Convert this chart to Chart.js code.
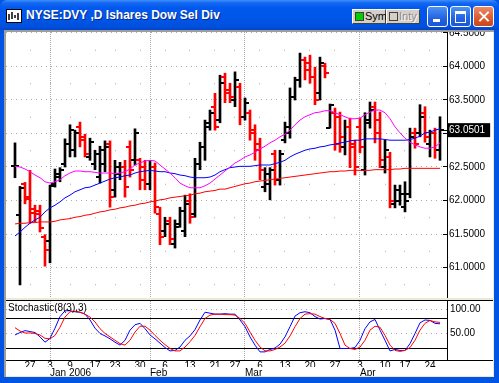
<!DOCTYPE html>
<html><head><meta charset="utf-8">
<script src="https://cdn.jsdelivr.net/npm/chart.js@4.4.1/dist/chart.umd.min.js"></script>
<style>
html,body{margin:0;padding:0;}
body{width:499px;height:383px;position:relative;overflow:hidden;background:#0054e3;font-family:"Liberation Sans",Arial,sans-serif;}
#title{position:absolute;left:0;top:0;width:499px;height:30px;border-radius:7px 7px 0 0;
 background:linear-gradient(to bottom,#3d8ffc 0px,#1467f0 3px,#0058ee 8px,#0055e6 20px,#0050dc 27px,#0043c9 30px);}
#title .txt{position:absolute;left:26px;top:8px;font:bold 12px "Liberation Sans",Arial,sans-serif;color:#fff;text-shadow:1px 1px 0 #0a2a8a;white-space:nowrap;}
#icon{position:absolute;left:6px;top:9px;width:16px;height:14px;}
.sbtn{position:absolute;top:9px;height:13px;width:32px;background:#d4d0c8;border-top:1px solid #fff;border-left:1px solid #fff;border-right:1px solid #404040;border-bottom:1px solid #404040;font:11px "Liberation Sans",Arial,sans-serif;line-height:13px;}
.sbtn .box{position:absolute;left:2px;top:2px;width:7px;height:7px;border:1px solid #404040;}
.sbtn span{position:absolute;left:12px;top:0;}
.wbtn{position:absolute;top:6px;width:19px;height:19px;border:1px solid #fff;border-radius:3px;background:linear-gradient(#4a93f6,#2463e2 60%,#1b56d4);}
#client{position:absolute;left:4px;top:30px;width:490px;height:347px;background:#ece9d8;}
#edgeL{position:absolute;left:4px;top:30px;width:2px;height:347px;background:#9d9d9d;}
#edgeT{position:absolute;left:4px;top:30px;width:490px;height:2px;background:#9d9d9d;}
canvas{position:absolute;background:#fff;}
#price{left:6px;top:32px;}
#stoch{left:6px;top:301px;}
.hl{position:absolute;left:6px;width:487px;height:1px;background:#000;}
#stlabel{position:absolute;left:8px;top:302px;font:10px "Liberation Sans",Arial,sans-serif;color:#000;}
</style></head>
<body>
<div id="title">
 <svg id="icon" width="16" height="14"><rect x="0.5" y="0.5" width="15" height="13" fill="#fff" stroke="#000"/><path d="M3 11V5M6 10V3M9 9V6M12 11V4" stroke="#000" stroke-width="1.5"/></svg>
 <div class="txt">NYSE:DVY ,D Ishares Dow Sel Div</div>
 <div class="sbtn" style="left:352px"><div class="box" style="background:#00d000"></div><span>Sym</span></div>
 <div class="sbtn" style="left:386px"><div class="box" style="background:#d4d0c8"></div><span style="color:#8a8a8a;text-shadow:1px 1px 0 #fff">Inty</span></div>
 <div class="wbtn" style="left:427px"><div style="position:absolute;left:5px;top:12px;width:7px;height:3px;background:#fff"></div></div>
 <div class="wbtn" style="left:450px"><div style="position:absolute;left:4px;top:4px;width:9px;height:8px;border:1px solid #fff;border-top:3px solid #fff"></div></div>
 <div class="wbtn" style="left:473px;background:linear-gradient(#ec8a68,#dc5a30 60%,#c8461c)"><div style="position:absolute;left:9px;top:3px;width:2px;height:13px;background:#fff;transform:rotate(45deg)"></div><div style="position:absolute;left:9px;top:3px;width:2px;height:13px;background:#fff;transform:rotate(-45deg)"></div></div>
</div>
<div id="client"></div>
<div id="edgeL"></div><div id="edgeT"></div>
<canvas id="price" width="487" height="266"></canvas>
<div class="hl" style="top:300px"></div>
<canvas id="stoch" width="487" height="75"></canvas>
<div class="hl" style="top:360px"></div>
<div id="stlabel">Stochastic(8(3),3)</div>
<script>
// ---------- data ----------
const tradingDays = [
 '2005-12-21','2005-12-22','2005-12-23','2005-12-27','2005-12-28','2005-12-29','2005-12-30',
 '2006-01-03','2006-01-04','2006-01-05','2006-01-06','2006-01-09','2006-01-10','2006-01-11','2006-01-12','2006-01-13',
 '2006-01-17','2006-01-18','2006-01-19','2006-01-20','2006-01-23','2006-01-24','2006-01-25','2006-01-26','2006-01-27','2006-01-30','2006-01-31',
 '2006-02-01','2006-02-02','2006-02-03','2006-02-06','2006-02-07','2006-02-08','2006-02-09','2006-02-10','2006-02-13','2006-02-14',
 '2006-02-15','2006-02-16','2006-02-17','2006-02-21','2006-02-22','2006-02-23','2006-02-24','2006-02-27','2006-02-28',
 '2006-03-01','2006-03-02','2006-03-03','2006-03-06','2006-03-07','2006-03-08','2006-03-09','2006-03-10','2006-03-13','2006-03-14',
 '2006-03-15','2006-03-16','2006-03-17','2006-03-20','2006-03-21','2006-03-22','2006-03-23','2006-03-24','2006-03-27','2006-03-28',
 '2006-03-29','2006-03-30','2006-03-31',
 '2006-04-03','2006-04-04','2006-04-05','2006-04-06','2006-04-07','2006-04-10','2006-04-11','2006-04-12','2006-04-13',
 '2006-04-17','2006-04-18','2006-04-19','2006-04-20','2006-04-21','2006-04-24','2006-04-25','2006-04-26'
];
const openPrices = [
 62.51,61.78,62.25,62.05,61.88,61.85,61.46,61.39,62.25,62.35,
 62.55,62.85,62.75,63.10,62.95,62.65,62.55,62.35,62.55,62.85,
 62.15,62.40,62.50,62.80,62.60,62.60,62.50,62.25,62.50,61.80,
 61.55,61.70,61.35,61.65,61.55,62.00,61.80,62.55,62.80,63.10,
 63.40,63.20,63.85,63.65,63.50,63.70,63.25,63.30,63.05,62.85,
 62.20,62.25,62.70,62.30,62.90,63.00,63.55,63.80,64.10,64.05,
 63.85,63.60,64.00,63.08,63.30,63.25,62.80,63.10,62.85,63.10,
 62.45,63.15,63.40,63.20,62.50,62.65,61.95,62.00,61.90,62.10,
 63.00,63.00,63.30,62.85,63.00,62.75];
const highPrices = [
 62.86,62.21,62.27,62.45,61.93,61.93,61.49,62.23,62.47,62.49,
 62.92,63.13,63.05,63.17,62.99,62.93,62.75,62.81,62.89,62.89,
 62.60,62.57,62.60,62.89,63.07,62.63,62.60,62.60,62.56,61.90,
 61.75,61.75,61.71,61.90,62.08,62.10,62.63,62.87,63.20,63.35,
 63.60,63.87,63.90,63.75,63.92,63.75,63.53,63.35,63.13,62.93,
 62.49,62.49,62.75,62.75,63.17,63.68,63.84,64.20,64.14,64.17,
 63.99,64.14,64.05,63.44,63.38,63.32,63.20,63.23,62.90,63.23,
 63.31,63.47,63.47,63.32,62.90,62.72,62.23,62.23,62.28,63.08,
 63.08,63.43,63.40,63.05,63.08,63.25];
const lowPrices = [
 62.34,60.74,61.95,61.66,61.68,61.53,61.02,61.07,62.20,62.28,
 62.50,62.65,62.65,62.80,62.65,62.60,62.46,62.26,62.43,61.90,
 62.05,62.31,62.05,62.35,62.53,62.16,62.16,62.16,61.81,61.34,
 61.46,61.34,61.29,61.60,61.46,61.66,61.75,62.46,62.60,63.05,
 63.05,63.16,63.46,63.46,63.40,63.13,63.20,62.90,62.60,62.31,
 62.13,62.01,62.23,62.23,62.86,62.93,63.50,63.69,63.80,63.75,
 63.43,63.50,63.83,63.08,62.75,62.72,62.68,62.49,62.38,62.71,
 62.38,63.08,62.86,62.49,62.41,61.89,61.89,61.93,61.83,62.04,
 62.78,62.95,62.87,62.65,62.63,62.60];
const closePrices = [
 62.52,62.19,62.02,61.82,61.80,61.59,61.26,62.22,62.40,62.45,
 62.85,63.05,63.00,62.90,62.70,62.88,62.70,62.75,62.80,62.05,
 62.50,62.50,62.20,62.45,63.00,62.30,62.25,62.50,61.90,61.45,
 61.65,61.42,61.60,61.85,61.95,61.75,62.55,62.80,63.15,63.30,
 63.10,63.75,63.60,63.55,63.80,63.25,63.45,63.00,62.75,62.45,
 62.40,62.45,62.30,62.70,63.10,63.55,63.80,64.10,63.95,63.85,
 63.50,64.05,63.90,63.43,62.85,62.95,63.10,62.80,62.50,62.80,
 63.20,63.35,63.00,62.60,62.75,62.00,62.15,62.10,62.00,62.95,
 62.85,63.25,62.95,63.00,62.75,63.0501];
const maFast = [
 62.51,62.50,62.47,62.43,62.38,62.34,62.28,62.26,62.28,62.31,
 62.37,62.41,62.44,62.44,62.43,62.43,62.42,62.41,62.41,62.41,
 62.40,62.41,62.43,62.47,62.53,62.56,62.59,62.60,62.59,62.53,
 62.47,62.41,62.34,62.26,62.22,62.19,62.19,62.19,62.22,62.26,
 62.32,62.38,62.44,62.50,62.56,62.60,62.65,62.68,62.72,62.77,
 62.81,62.86,62.90,62.95,62.99,63.05,63.13,63.20,63.25,63.28,
 63.31,63.32,63.34,63.34,63.31,63.28,63.25,63.22,63.22,63.23,
 63.28,63.32,63.35,63.35,63.31,63.22,63.10,63.01,62.93,62.87,
 62.83,62.80,62.78,62.78,62.80,62.86];
const maMid = [
 61.47,61.53,61.60,61.66,61.71,61.75,61.83,61.89,61.93,61.98,
 62.04,62.08,62.13,62.16,62.19,62.20,62.23,62.26,62.29,62.32,
 62.34,62.35,62.37,62.38,62.41,62.43,62.44,62.45,62.44,62.43,
 62.43,62.41,62.40,62.38,62.37,62.35,62.34,62.34,62.34,62.35,
 62.38,62.43,62.46,62.49,62.50,62.51,62.51,62.51,62.52,62.53,
 62.53,62.53,62.55,62.57,62.60,62.65,62.69,62.72,62.75,62.77,
 62.78,62.80,62.81,62.83,62.84,62.86,62.87,62.89,62.90,62.90,
 62.92,62.92,62.92,62.92,62.91,62.90,62.90,62.90,62.90,62.91,
 62.93,62.96,63.01,63.02,63.05,63.07];
const maSlow = [
 61.65,61.66,61.66,61.67,61.67,61.68,61.68,61.68,61.69,61.71,
 61.72,61.73,61.75,61.76,61.78,61.79,61.81,61.83,61.84,61.86,
 61.87,61.89,61.90,61.92,61.93,61.95,61.96,61.98,61.99,62.01,
 62.02,62.04,62.05,62.06,62.07,62.08,62.10,62.11,62.13,62.14,
 62.15,62.17,62.17,62.19,62.21,62.23,62.25,62.26,62.28,62.29,
 62.30,62.31,62.32,62.33,62.34,62.35,62.36,62.37,62.38,62.39,
 62.40,62.41,62.42,62.43,62.43,62.44,62.44,62.45,62.45,62.45,
 62.45,62.45,62.46,62.46,62.46,62.46,62.47,62.47,62.48,62.48,
 62.48,62.48,62.48,62.48,62.48,62.48];
const stochK = [
 47,52,56,54,52,43,32,40,61,85,
 97,97,95,94,90,78,61,50,45,39,
 32,26,36,57,68,71,60,47,39,30,
 21,14,15,22,36,45,58,78,94,92,
 90,90,91,90,90,78,64,43,26,12,
 12,17,20,28,43,64,86,93,95,93,
 85,80,81,79,57,19,19,19,21,36,
 60,74,79,57,36,14,17,15,15,29,
 50,72,78,77,71,70];
const stochD = [
 62,55,51,51,50,47,40,39,46,63,
 84,95,96,94,90,84,74,60,50,43,
 36,29,26,36,53,65,65,57,46,36,
 27,19,14,14,22,33,46,64,81,88,
 90,90,89,89,88,81,71,53,36,22,
 14,14,17,22,30,45,64,81,90,91,
 90,85,81,79,71,50,26,19,17,22,
 36,57,65,63,46,26,15,13,15,21,
 36,57,71,77,74,73];
const priceTicks = [61, 61.5, 62, 62.5, 63, 63.5, 64, 64.5];
const stochLabelTicks = [50, 100];
const stochBandTicks = [20, 80];
const monthNames = ['Jan','Feb','Mar','Apr','May','Jun','Jul','Aug','Sep','Oct','Nov','Dec'];

// ---------- derived ----------
const N = tradingDays.length;
const dates = tradingDays.map(s => new Date(s + 'T00:00:00Z'));
const weekStarts = [], monthStarts = [];
for (let i = 1; i < N; i++) {
  if (dates[i].getUTCDay() < dates[i-1].getUTCDay()) weekStarts.push(i);
  if (dates[i].getUTCMonth() !== dates[i-1].getUTCMonth()) monthStarts.push(i);
}
function monthLabel(i){ const d = dates[i]; const m = d.getUTCMonth(); return m === 0 ? monthNames[m] + ' ' + d.getUTCFullYear() : monthNames[m]; }
const isUp = closePrices.map((c,i) => c >= openPrices[i]);
const lastClose = closePrices[N-1];
const yTicks = priceTicks.concat([lastClose]).sort((a,b)=>a-b);
const isLast = v => Math.abs(v - lastClose) < 1e-9;

function tickImage(color, side){
  const c = document.createElement('canvas'); c.width = 8; c.height = 2;
  const g = c.getContext('2d'); g.fillStyle = color; g.fillRect(side === 'left' ? 0 : 4, 0, 4, 2); return c;
}
const openImg = {up: tickImage('#000','left'), down: tickImage('#ff0000','left')};
const closeImg = {up: tickImage('#000','right'), down: tickImage('#ff0000','right')};

Chart.defaults.font.family = '"Liberation Sans", Arial, sans-serif';
Chart.defaults.font.size = 10;
Chart.defaults.color = '#000';

const X_MIN = -1.8, X_MAX = 86.4;
const setTicks = vals => scale => { scale.ticks = vals.map(v => ({value: v})); };
const flatX = h => s => { s.height = h; s.paddingLeft = 0; s.paddingRight = 0; };
const fixY = w => s => { s.width = w; s.paddingTop = 0; s.paddingBottom = 0; };
const GRID = '#a9a9a9';
const common = {responsive:false, animation:false, devicePixelRatio:1, events:[],
  layout:{padding:0, autoPadding:false}, plugins:{legend:{display:false}, tooltip:{enabled:false}}};
const pts = arr => arr.map((v,i) => ({x:i, y:v}));
const lineDs = (arr, color) => ({type:'line', data: pts(arr), borderColor: color, borderWidth: 1, pointRadius: 0, tension: 0, xAxisID:'x', yAxisID:'y'});

new Chart(document.getElementById('price'), {
  type: 'scatter',
  data: { datasets: [
    lineDs(maFast, '#ff00ff'),
    lineDs(maMid, '#0000ff'),
    lineDs(maSlow, '#ff0000'),
    {type:'scatter', data: pts(openPrices), pointRadius: 3, xAxisID:'x', yAxisID:'y',
     pointStyle: c => (c.dataIndex !== undefined && !isUp[c.dataIndex]) ? openImg.down : openImg.up},
    {type:'scatter', data: pts(closePrices), pointRadius: 3, xAxisID:'x', yAxisID:'y',
     pointStyle: c => (c.dataIndex !== undefined && !isUp[c.dataIndex]) ? closeImg.down : closeImg.up},
    {type:'bar', data: highPrices.map((h,i) => ({x:i, y:[lowPrices[i], h]})), xAxisID:'x', yAxisID:'y',
     backgroundColor: isUp.map(u => u ? '#000000' : '#ff0000'), barThickness: 2, borderWidth: 0, borderSkipped: false}
  ]},
  options: Object.assign({}, common, {
    scales: {
      x: {type:'linear', position:'bottom', min:X_MIN, max:X_MAX, offset:false, afterBuildTicks: setTicks(monthStarts), afterFit: flatX(0),
          ticks:{display:false}, grid:{color:GRID, drawTicks:false, offset:false}, border:{display:false, dash:[1,1]}},
      xw: {type:'linear', position:'bottom', min:X_MIN, max:X_MAX, offset:false, afterBuildTicks: setTicks(weekStarts), afterFit: flatX(0),
          ticks:{display:false}, grid:{color:GRID, drawTicks:false, offset:false}, border:{display:false, dash:[1,32.5], dashOffset:15.75}},
      y: {type:'linear', position:'right', min:60.5448, max:64.5149, beginAtZero:false, afterBuildTicks: setTicks(yTicks), afterFit: fixY(46),
          ticks:{autoSkip:false, padding:6,
                 callback: v => isLast(v) ? v.toFixed(4) : (Math.abs(v - lastClose) < 0.12 ? '' : v.toFixed(4)),
                 color: c => (c.tick && isLast(c.tick.value)) ? '#fff' : '#000',
                 showLabelBackdrop: true,
                 backdropColor: c => (c.tick && isLast(c.tick.value)) ? '#000' : 'rgba(0,0,0,0)',
                 backdropPadding:{top:1,bottom:1,left:1,right:5}},
          grid:{color: c => (c.tick && isLast(c.tick.value)) ? 'rgba(0,0,0,0)' : GRID, tickLength:-4, tickColor:'#000'},
          border:{color:'#000', dash:[1,4]}}
    }
  })
});

new Chart(document.getElementById('stoch'), {
  type: 'line',
  data: { datasets: [
    {data: pts(stochD), borderColor:'#ff0000', borderWidth:1, pointRadius:0, tension:0, xAxisID:'x', yAxisID:'y'},
    {data: pts(stochK), borderColor:'#0000ff', borderWidth:1, pointRadius:0, tension:0, xAxisID:'x', yAxisID:'y'}
  ]},
  options: Object.assign({}, common, {
    scales: {
      x: {type:'linear', position:'bottom', weight:0, min:X_MIN, max:X_MAX, offset:false, afterBuildTicks: setTicks(weekStarts), afterFit: flatX(7),
          ticks:{autoSkip:false, minRotation:0, maxRotation:0, padding:0, callback: v => String(dates[v].getUTCDate())},
          grid:{display:false, drawTicks:false, offset:false}, border:{display:false}},
      xm: {type:'linear', position:'bottom', weight:1, min:X_MIN, max:X_MAX, offset:false, afterBuildTicks: setTicks(monthStarts), afterFit: flatX(9),
          ticks:{autoSkip:false, minRotation:0, maxRotation:0, padding:0, align:'start', callback: v => monthLabel(v)},
          grid:{color:GRID, drawTicks:false, offset:false}, border:{display:false, dash:[1,1]}},
      y: {type:'linear', position:'right', weight:0, min:-4.8, max:117.2, afterBuildTicks: setTicks(stochLabelTicks), afterFit: fixY(46),
          ticks:{autoSkip:false, padding:3, callback: v => v.toFixed(2)},
          grid:{color:GRID, drawTicks:false}, border:{color:'#000', dash:[1,4]}},
      yb: {type:'linear', position:'right', weight:1, min:-4.8, max:117.2, afterBuildTicks: setTicks(stochBandTicks), afterFit: fixY(0),
          ticks:{display:false}, grid:{color:'#000', drawTicks:false}, border:{display:false}}
    }
  })
});
</script>
</body></html>
